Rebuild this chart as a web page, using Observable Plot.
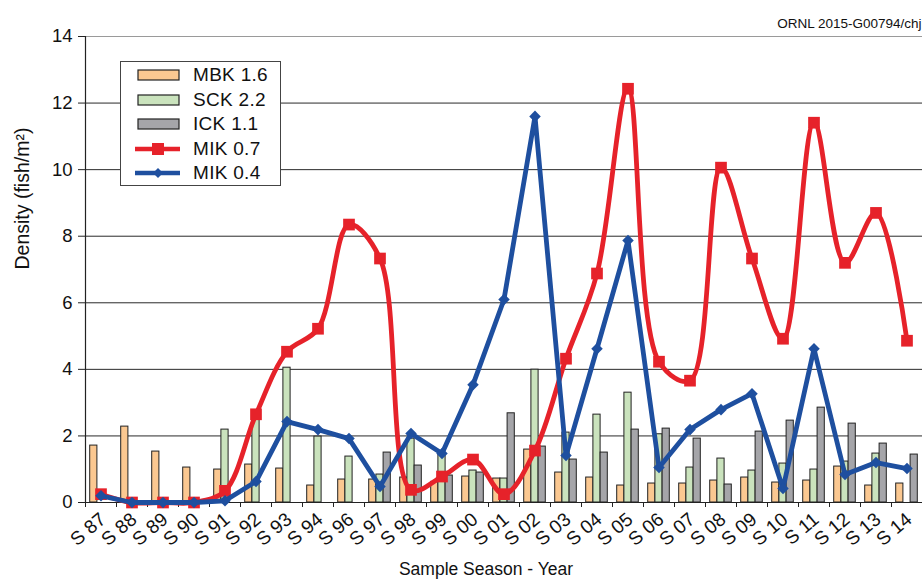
<!DOCTYPE html>
<html><head><meta charset="utf-8">
<script src="https://cdn.jsdelivr.net/npm/d3@7"></script>
<script src="https://cdn.jsdelivr.net/npm/@observablehq/plot@0.6"></script>
<style>
body{margin:0;background:#fff;font-family:"Liberation Sans",Arial,sans-serif;}
#wrap{position:relative;width:922px;height:582px;}
#legend{position:absolute;left:120px;top:61px;width:159px;height:123px;border:1.5px solid #444;background:#fff;}
.row{position:absolute;left:0;height:24px;width:159px;}
.row svg{position:absolute;left:12px;top:0;}
.row span{position:absolute;left:72px;top:1px;font-size:19px;color:#111;line-height:21px;letter-spacing:0.3px;}
</style></head>
<body><div id="wrap"></div>
<script>
const categories = ["S 87","S 88","S 89","S 90","S 91","S 92","S 93","S 94","S 96","S 97","S 98","S 99","S 00","S 01","S 02","S 03","S 04","S 05","S 06","S 07","S 08","S 09","S 10","S 11","S 12","S 13","S 14"];
const mbk16 = [1.71,2.28,1.53,1.05,0.99,1.14,1.02,0.51,0.69,0.69,0.75,0.62,0.78,0.72,1.59,0.9,0.75,0.51,0.57,0.57,0.66,0.75,0.6,0.66,1.08,0.51,0.57];
const sck22 = [null,null,null,null,2.19,2.7,4.05,1.98,1.38,0.84,1.92,1.45,0.96,0.72,3.99,2.1,2.64,3.3,2.05,1.05,1.32,0.96,1.17,0.99,1.23,1.47,null];
const ick11 = [null,null,null,null,null,null,null,null,null,1.5,1.11,0.81,0.9,2.68,1.68,1.29,1.5,2.19,2.22,1.92,0.54,2.13,2.46,2.85,2.37,1.77,1.44];
const mik07 = [0.25,0,0,0,0.35,2.65,4.53,5.22,8.35,7.33,0.38,0.78,1.29,0.25,1.56,4.32,6.88,12.43,4.23,3.66,10.06,7.33,4.92,11.41,7.2,8.7,4.86];
const mik04 = [0.2,0,0,0,0.05,0.63,2.43,2.19,1.92,0.48,2.07,1.47,3.54,6.1,11.6,1.41,4.62,7.87,1.05,2.19,2.79,3.27,0.42,4.62,0.84,1.2,1.02];
const yTicks = [0,2,4,6,8,10,12,14];
const seriesNames = ["MBK 1.6","SCK 2.2","ICK 1.1","MIK 0.7","MIK 0.4"];
const colors = {mbk:"#FBC891", sck:"#CAE3BD", ick:"#A5A5A9", red:"#E6222A", blue:"#1E4F9F"};

const toRows = arr => categories.map((c,i)=>({cat:c, v:arr[i]})).filter(d=>d.v!=null);
const W = 922, H = 582, mL = 85, mR = 0;
const bw = (W - mL - mR) / categories.length;
const barW = 7.2;
const inset = (bw - barW) / 2;

const barOpts = (dx, fill) => ({x:"cat", y:"v", fill, stroke:"#222", strokeWidth:1, insetLeft:inset, insetRight:inset, dx});

const chart = Plot.plot({
  width: W, height: H,
  marginLeft: mL, marginRight: mR, marginTop: 36, marginBottom: 80,
  style: {fontFamily: "'Liberation Sans', Arial, sans-serif", fontSize: "18px", color:"#111", background:"#fff"},
  x: {domain: categories, padding: 0, axis: null},
  y: {domain: [0,14], axis: null},
  marks: [
    Plot.ruleY(yTicks.filter(t=>t>0 && t<14), {stroke:"#2a2a2a", strokeWidth:1}),
    Plot.ruleY([14], {stroke:"#9a9a9a", strokeWidth:1.2}),
    Plot.barY(toRows(mbk16), barOpts(-barW, colors.mbk)),
    Plot.barY(toRows(sck22), barOpts(0, colors.sck)),
    Plot.barY(toRows(ick11), barOpts(barW, colors.ick)),
    Plot.ruleY([0], {stroke:"#222", strokeWidth:1.2}),
    Plot.ruleX([categories[0]], {y1:0, y2:14, dx:-bw/2, stroke:"#222", strokeWidth:1.2}),
    Plot.ruleX(categories, {x:d=>d, y1:0, y2:-0.15, dx:-bw/2, stroke:"#222"}),
    Plot.axisY({ticks: yTicks, tickSize: 7, tickPadding: 6, fontSize: 18.5, label: null, stroke:"#222"}),
    Plot.line(toRows(mik07), {x:"cat", y:"v", stroke:colors.red, strokeWidth:4.8, curve:"catmull-rom"}),
    Plot.dot(toRows(mik07), {x:"cat", y:"v", symbol:"square", r:6.6, fill:colors.red}),
    Plot.line(toRows(mik04), {x:"cat", y:"v", stroke:colors.blue, strokeWidth:4.8}),
    Plot.dot(toRows(mik04), {x:"cat", y:"v", symbol:"diamond2", r:5.2, fill:colors.blue}),
    Plot.text(categories, {x:d=>d, text:d=>d, frameAnchor:"bottom", rotate:-40, textAnchor:"end", dx:6, dy:19, fontSize:19, fill:"#111"}),
    Plot.text(["Density (fish/m²)"], {frameAnchor:"left", rotate:-90, dx:-63, fontSize:19.5, fill:"#111"}),
    Plot.text(["Sample Season - Year"], {frameAnchor:"bottom", dx:-18, dy:72, fontSize:17.5, fill:"#111"}),
    Plot.text(["ORNL 2015-G00794/chj"], {frameAnchor:"top-right", textAnchor:"end", dx:-1, dy:-18, fontSize:13.5, fill:"#111"})
  ]
});
document.getElementById("wrap").appendChild(chart);

// legend
const legend = document.createElement("div");
legend.id = "legend";
const swatches = [
  {type:"bar", fill:colors.mbk}, {type:"bar", fill:colors.sck}, {type:"bar", fill:colors.ick},
  {type:"line", stroke:colors.red, sym:"square"}, {type:"line", stroke:colors.blue, sym:"diamond"}
];
seriesNames.forEach((name,i)=>{
  const row = document.createElement("div");
  row.className = "row";
  row.style.top = (1 + i*24.5) + "px";
  const s = swatches[i];
  let svg = `<svg width="50" height="24" viewBox="0 0 50 24">`;
  if (s.type === "bar") svg += `<rect x="5" y="7" width="41" height="10" fill="${s.fill}" stroke="#222" stroke-width="1.2"/>`;
  else {
    svg += `<line x1="2" x2="47" y1="12" y2="12" stroke="${s.stroke}" stroke-width="4.5"/>`;
    if (s.sym === "square") svg += `<rect x="19" y="6" width="12" height="12" fill="${s.stroke}"/>`;
    else svg += `<path d="M25 7 L30 12 L25 17 L20 12 Z" fill="${s.stroke}"/>`;
  }
  svg += `</svg>`;
  row.innerHTML = svg + `<span>${name}</span>`;
  legend.appendChild(row);
});
document.getElementById("wrap").appendChild(legend);
</script>
</body></html>
